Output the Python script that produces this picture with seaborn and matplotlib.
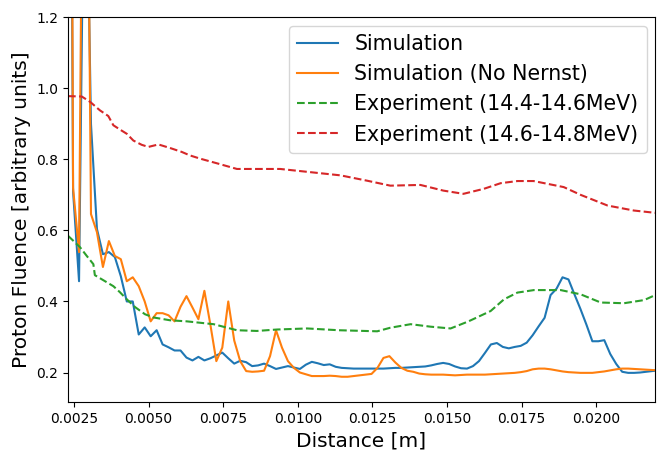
import matplotlib
matplotlib.use("Agg")
import matplotlib.pyplot as plt
import seaborn as sns
import numpy as np

# ---- data ----
x_sim = [0.00227, 0.00247, 0.00267, 0.00287, 0.00307, 0.00327, 0.00347, 0.00367, 0.00387,
         0.00407, 0.00427, 0.00447, 0.00467, 0.00487, 0.00507, 0.00527, 0.00547, 0.00567,
         0.00587, 0.00607, 0.00627, 0.00647, 0.00667, 0.00687, 0.00707, 0.00727, 0.00747,
         0.00767, 0.00787, 0.00807, 0.00827, 0.00847, 0.00867, 0.00887, 0.00907, 0.00927,
         0.00947, 0.00967, 0.00987, 0.01007, 0.01027, 0.01047, 0.01067, 0.01087, 0.01107,
         0.01127, 0.01147, 0.01167, 0.01187, 0.01207, 0.01227, 0.01247, 0.01267, 0.01287,
         0.01307, 0.01327, 0.01347, 0.01367, 0.01387, 0.01407, 0.01427, 0.01447, 0.01467,
         0.01487, 0.01507, 0.01527, 0.01547, 0.01567, 0.01587, 0.01607, 0.01627, 0.01647,
         0.01667, 0.01687, 0.01707, 0.01727, 0.01747, 0.01767, 0.01787, 0.01807, 0.01827,
         0.01847, 0.01867, 0.01887, 0.01907, 0.01927, 0.01947, 0.01967, 0.01987, 0.02007,
         0.02027, 0.02047, 0.02067, 0.02087, 0.02107, 0.02127, 0.02147, 0.02167, 0.02187,
         0.02207]

sim = [4.0, 0.71, 0.457, 1.9, 0.90, 0.604, 0.533, 0.539, 0.525, 0.471,
       0.400, 0.400, 0.307, 0.327, 0.302, 0.319, 0.279, 0.271, 0.262, 0.262,
       0.242, 0.234, 0.244, 0.234, 0.240, 0.248, 0.256, 0.240, 0.225, 0.233,
       0.229, 0.218, 0.220, 0.225, 0.218, 0.210, 0.214, 0.218, 0.214, 0.210,
       0.222, 0.230, 0.226, 0.221, 0.223, 0.216, 0.213, 0.212, 0.211, 0.211,
       0.211, 0.211, 0.211, 0.211, 0.212, 0.213, 0.213, 0.214, 0.215, 0.216,
       0.217, 0.220, 0.224, 0.227, 0.224, 0.217, 0.212, 0.211, 0.218, 0.232,
       0.255, 0.279, 0.283, 0.272, 0.268, 0.272, 0.275, 0.284, 0.305, 0.330,
       0.354, 0.418, 0.436, 0.468, 0.462, 0.420, 0.379, 0.335, 0.288, 0.288,
       0.291, 0.252, 0.224, 0.202, 0.199, 0.199, 0.200, 0.202, 0.204, 0.206]

sim_no_nernst = [5.0, 0.72, 0.539, 2.6, 0.646, 0.595, 0.497, 0.570, 0.528, 0.519,
                 0.457, 0.468, 0.443, 0.400, 0.344, 0.367, 0.367, 0.361, 0.344, 0.385,
                 0.415, 0.383, 0.350, 0.430, 0.335, 0.232, 0.270, 0.400, 0.290, 0.232,
                 0.204, 0.202, 0.203, 0.205, 0.246, 0.319, 0.270, 0.232, 0.213, 0.200,
                 0.195, 0.190, 0.190, 0.190, 0.191, 0.190, 0.188, 0.188, 0.190, 0.192,
                 0.194, 0.196, 0.213, 0.241, 0.246, 0.228, 0.213, 0.205, 0.202, 0.197,
                 0.195, 0.194, 0.194, 0.194, 0.193, 0.192, 0.193, 0.194, 0.194, 0.194,
                 0.194, 0.195, 0.196, 0.197, 0.198, 0.199, 0.201, 0.204, 0.209, 0.211,
                 0.211, 0.209, 0.206, 0.203, 0.201, 0.200, 0.199, 0.199, 0.199, 0.201,
                 0.203, 0.206, 0.209, 0.211, 0.211, 0.210, 0.209, 0.208, 0.207, 0.206]

x_exp1 = [0.00230, 0.00270, 0.00293, 0.00315, 0.00320, 0.00348, 0.00382, 0.00404, 0.00427,
          0.00455, 0.00488, 0.00516, 0.00572, 0.00628, 0.00673, 0.00718, 0.00796, 0.00863,
          0.00930, 0.01031, 0.01137, 0.01266, 0.01310, 0.01378, 0.01445, 0.01512, 0.01572,
          0.01646, 0.01691, 0.01736, 0.01791, 0.01881, 0.01948, 0.02015, 0.02093, 0.02161,
          0.02203]
exp1 = [0.585, 0.553, 0.528, 0.505, 0.474, 0.460, 0.443, 0.426, 0.406,
        0.384, 0.364, 0.355, 0.347, 0.344, 0.340, 0.336, 0.319, 0.317,
        0.321, 0.324, 0.319, 0.316, 0.326, 0.336, 0.329, 0.324, 0.344,
        0.373, 0.406, 0.425, 0.432, 0.432, 0.420, 0.397, 0.395, 0.404,
        0.420]

x_exp2 = [0.00230, 0.00276, 0.00304, 0.00337, 0.00365, 0.00382, 0.00404, 0.00427, 0.00449,
          0.00477, 0.00499, 0.00533, 0.00572, 0.00611, 0.00639, 0.00673, 0.00733, 0.00796,
          0.00941, 0.01042, 0.01143, 0.01232, 0.01310, 0.01411, 0.01488, 0.01555, 0.01623,
          0.01680, 0.01736, 0.01790, 0.01891, 0.01948, 0.02038, 0.02126, 0.02203]
exp2 = [0.978, 0.977, 0.962, 0.938, 0.922, 0.896, 0.884, 0.872, 0.853,
        0.841, 0.835, 0.842, 0.832, 0.821, 0.811, 0.802, 0.788, 0.773,
        0.773, 0.764, 0.755, 0.740, 0.726, 0.728, 0.712, 0.703, 0.717,
        0.733, 0.739, 0.739, 0.722, 0.700, 0.670, 0.656, 0.649]

labels = ["Simulation", "Simulation (No Nernst)",
          "Experiment (14.4-14.6MeV)", "Experiment (14.6-14.8MeV)"]
x_ticks = [0.0025, 0.0050, 0.0075, 0.0100, 0.0125, 0.0150, 0.0175, 0.0200]
x_tick_labels = ["0.0025", "0.0050", "0.0075", "0.0100", "0.0125", "0.0150", "0.0175", "0.0200"]
y_ticks = [0.2, 0.4, 0.6, 0.8, 1.0, 1.2]
y_tick_labels = ["0.2", "0.4", "0.6", "0.8", "1.0", "1.2"]

# ---- plot ----
plt.rcParams['font.family'] = ['DejaVu Sans']
fig, ax = plt.subplots(figsize=(6.57, 4.5), dpi=100)
fig.subplots_adjust(left=0.1035, right=0.997, top=0.9616, bottom=0.1067)

colors = ["#1f77b4", "#ff7f0e", "#2ca02c", "#d62728"]
sns.lineplot(x=x_sim, y=sim, ax=ax, color=colors[0], label=labels[0], lw=1.5)
sns.lineplot(x=x_sim, y=sim_no_nernst, ax=ax, color=colors[1], label=labels[1], lw=1.5)
sns.lineplot(x=x_exp1, y=exp1, ax=ax, color=colors[2], label=labels[2], lw=1.5, linestyle="--")
sns.lineplot(x=x_exp2, y=exp2, ax=ax, color=colors[3], label=labels[3], lw=1.5, linestyle="--")

ax.set_xlim(0.0023, 0.02197)
ax.set_ylim(0.117, 1.2)
ax.set_xticks(x_ticks)
ax.set_xticklabels(x_tick_labels, fontsize=10)
ax.set_yticks(y_ticks)
ax.set_yticklabels(y_tick_labels, fontsize=10)
ax.set_xlabel("Distance [m]", fontsize=14.5)
ax.set_ylabel("Proton Fluence [arbitrary units]", fontsize=14.5)
for s in ax.spines.values():
    s.set_visible(True)
ax.legend(loc="upper right", fontsize=14.8, borderaxespad=0.4)

fig.savefig("out.png", dpi=100)
